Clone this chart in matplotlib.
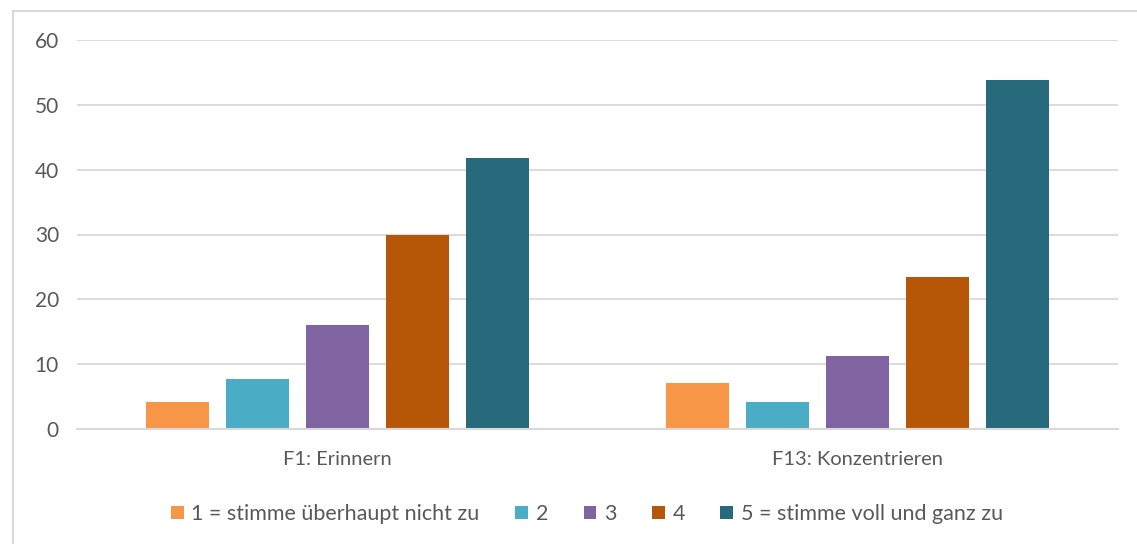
import matplotlib
matplotlib.use("Agg")
import matplotlib.pyplot as plt
from matplotlib.patches import Patch
from matplotlib.lines import Line2D
import numpy as np

categories = ["F1: Erinnern", "F13: Konzentrieren"]
series_names = ["1 = stimme überhaupt nicht zu", "2", "3", "4", "5 = stimme voll und ganz zu"]
values = {
    "1 = stimme überhaupt nicht zu": [4.1, 7.1],
    "2": [7.7, 4.1],
    "3": [16.1, 11.3],
    "4": [29.9, 23.4],
    "5 = stimme voll und ganz zu": [41.8, 53.8],
}
colors = ["#F79646", "#4BACC6", "#8064A2", "#B65708", "#276A7C"]
yticks = [0, 10, 20, 30, 40, 50, 60]

W, H = 1137, 544
fig = plt.figure(figsize=(W / 100, H / 100), dpi=100)
plt.rcParams["font.family"] = ["Lato", "DejaVu Sans"]
text_color = "#595959"
grid_color = "#D9D9D9"

# outer chart border
fig.add_artist(Line2D([13 / W, 13 / W], [0, 1 - 11 / H], transform=fig.transFigure, color=grid_color, lw=1.5))
fig.add_artist(Line2D([13 / W, 1], [1 - 11 / H, 1 - 11 / H], transform=fig.transFigure, color=grid_color, lw=1.5))

left, right = 77 / W, 1118 / W
bottom, top = (H - 429) / H, (H - 40) / H
ax = fig.add_axes([left, bottom, right - left, top - bottom])
ax.set_xlim(0, len(categories))
ax.set_ylim(0, 60)

n = len(series_names)
step = 80 / 520.5
width = 63 / 520.5
x = np.arange(len(categories)) + 0.5
for i, (name, c) in enumerate(zip(series_names, colors)):
    offs = (i - (n - 1) / 2) * step
    ax.bar(x + offs, values[name], width=width, color=c, zorder=3)

ax.set_yticks(yticks)
ax.set_yticklabels([str(v) for v in yticks], fontsize=15, color=text_color)
ax.set_xticks(x)
ax.set_xticklabels(categories, fontsize=14.5, color=text_color)
ax.tick_params(axis="both", length=0)
ax.tick_params(axis="y", pad=13)
ax.tick_params(axis="x", pad=16)
for s in ["top", "right", "left"]:
    ax.spines[s].set_visible(False)
ax.spines["bottom"].set_color(grid_color)
ax.spines["bottom"].set_linewidth(1.5)
ax.spines["bottom"].set_zorder(4)
ax.yaxis.grid(True, color=grid_color, lw=1.3, zorder=0)
ax.set_axisbelow(True)

handles = [Patch(facecolor=c, edgecolor="none") for c in colors]
leg = fig.legend(handles, series_names, loc="center", bbox_to_anchor=(587 / W, 1 - 514 / H),
                 ncol=5, frameon=False, fontsize=15.5, handlelength=0.6, handleheight=0.6,
                 handletextpad=0.35, columnspacing=1.65, labelcolor=text_color)

fig.savefig("out.png", dpi=100, facecolor="white")
